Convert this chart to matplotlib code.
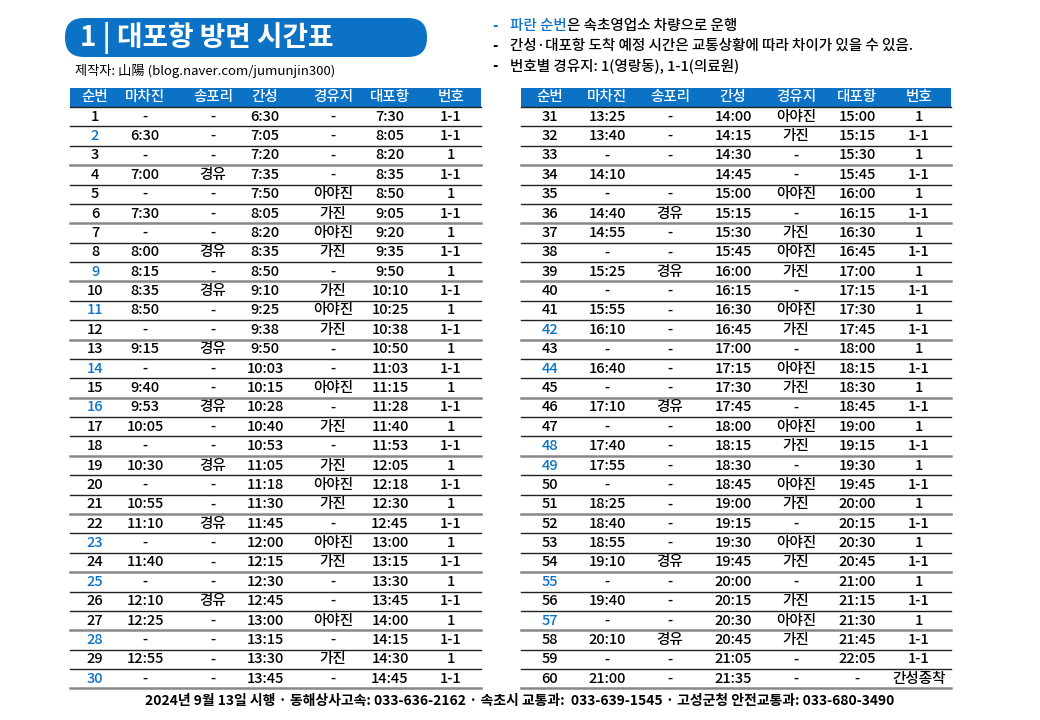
import matplotlib
matplotlib.use("Agg")
import matplotlib.pyplot as plt
from matplotlib.patches import FancyBboxPatch, Rectangle

FONT = ["Noto Sans CJK KR", "Noto Sans CJK JP", "Noto Sans CJK SC", "DejaVu Sans"]
plt.rcParams["font.family"] = FONT
BLUE = "#0b72c6"

headers = ["순번", "마차진", "송포리", "간성", "경유지", "대포항", "번호"]
seq = [str(i) for i in range(1, 61)]
machajin = ["-", "6:30", "-", "7:00", "-", "7:30", "-", "8:00", "8:15", "8:35",
            "8:50", "-", "9:15", "-", "9:40", "9:53", "10:05", "-", "10:30", "-",
            "10:55", "11:10", "-", "11:40", "-", "12:10", "12:25", "-", "12:55", "-",
            "13:25", "13:40", "-", "14:10", "-", "14:40", "14:55", "-", "15:25", "-",
            "15:55", "16:10", "-", "16:40", "-", "17:10", "-", "17:40", "17:55", "-",
            "18:25", "18:40", "18:55", "19:10", "-", "19:40", "-", "20:10", "-", "21:00"]
songpori = ["-", "-", "-", "경유", "-", "-", "-", "경유", "-", "경유",
            "-", "-", "경유", "-", "-", "경유", "-", "-", "경유", "-",
            "-", "경유", "-", "-", "-", "경유", "-", "-", "-", "-",
            "-", "-", "-", "", "-", "경유", "-", "-", "경유", "-",
            "-", "-", "-", "-", "-", "경유", "-", "-", "-", "-",
            "-", "-", "-", "경유", "-", "-", "-", "경유", "-", "-"]
ganseong = ["6:30", "7:05", "7:20", "7:35", "7:50", "8:05", "8:20", "8:35", "8:50", "9:10",
            "9:25", "9:38", "9:50", "10:03", "10:15", "10:28", "10:40", "10:53", "11:05", "11:18",
            "11:30", "11:45", "12:00", "12:15", "12:30", "12:45", "13:00", "13:15", "13:30", "13:45",
            "14:00", "14:15", "14:30", "14:45", "15:00", "15:15", "15:30", "15:45", "16:00", "16:15",
            "16:30", "16:45", "17:00", "17:15", "17:30", "17:45", "18:00", "18:15", "18:30", "18:45",
            "19:00", "19:15", "19:30", "19:45", "20:00", "20:15", "20:30", "20:45", "21:05", "21:35"]
via = ["-", "-", "-", "-", "아야진", "가진", "아야진", "가진", "-", "가진",
       "아야진", "가진", "-", "-", "아야진", "-", "가진", "-", "가진", "아야진",
       "가진", "-", "아야진", "가진", "-", "-", "아야진", "-", "가진", "-",
       "아야진", "가진", "-", "-", "아야진", "-", "가진", "아야진", "가진", "-",
       "아야진", "가진", "-", "아야진", "가진", "-", "아야진", "가진", "-", "아야진",
       "가진", "-", "아야진", "가진", "-", "가진", "아야진", "가진", "-", "-"]
daepo = ["7:30", "8:05", "8:20", "8:35", "8:50", "9:05", "9:20", "9:35", "9:50", "10:10",
         "10:25", "10:38", "10:50", "11:03", "11:15", "11:28", "11:40", "11:53", "12:05", "12:18",
         "12:30", "12:45", "13:00", "13:15", "13:30", "13:45", "14:00", "14:15", "14:30", "14:45",
         "15:00", "15:15", "15:30", "15:45", "16:00", "16:15", "16:30", "16:45", "17:00", "17:15",
         "17:30", "17:45", "18:00", "18:15", "18:30", "18:45", "19:00", "19:15", "19:30", "19:45",
         "20:00", "20:15", "20:30", "20:45", "21:00", "21:15", "21:30", "21:45", "22:05", "-"]
route = ["1-1", "1-1", "1", "1-1", "1", "1-1", "1", "1-1", "1", "1-1",
         "1", "1-1", "1", "1-1", "1", "1-1", "1", "1-1", "1", "1-1",
         "1", "1-1", "1", "1-1", "1", "1-1", "1", "1-1", "1", "1-1",
         "1", "1-1", "1", "1-1", "1", "1-1", "1", "1-1", "1", "1-1",
         "1", "1-1", "1", "1-1", "1", "1-1", "1", "1-1", "1", "1-1",
         "1", "1-1", "1", "1-1", "1", "1-1", "1", "1-1", "1-1", "간성종착"]
blue_seq = {2, 9, 11, 14, 16, 23, 25, 28, 30, 42, 44, 48, 49, 55, 57}

title = "1 | 대포항 방면 시간표"
credit = "제작자: 山陽 (blog.naver.com/jumunjin300)"
notes = ["간성·대포항 도착 예정 시간은 교통상황에 따라 차이가 있을 수 있음.",
         "번호별 경유지: 1(영랑동), 1-1(의료원)"]
footer = "2024년 9월 13일 시행 · 동해상사고속: 033-636-2162 · 속초시 교통과:  033-639-1545 · 고성군청 안전교통과: 033-680-3490"

fig = plt.figure(figsize=(10.4, 7.2), dpi=100)
ax = fig.add_axes([0, 0, 1, 1])
ax.set_xlim(0, 1040)
ax.set_ylim(720, 0)
ax.axis("off")

# Title pill
ax.add_patch(FancyBboxPatch((65, 18), 362, 39, boxstyle="round,pad=0,rounding_size=19",
                            fc=BLUE, ec="none"))
ax.text(80, 38, title, color="white", fontsize=20, fontweight="bold",
        va="center", ha="left")
ax.text(75, 71, credit, fontsize=9.5, va="center", ha="left")

# Notes
ax.text(492, 26, "-", color=BLUE, fontsize=10.5, va="center", fontweight="bold")
t = ax.text(510, 26, "파란 순번", color=BLUE, fontsize=10.5, va="center", fontweight="medium")
fig.canvas.draw()
bb = t.get_window_extent()
ax.text(510 + bb.width, 26, "은 속초영업소 차량으로 운행", fontsize=10.5, va="center",
        fontweight="medium")
for i, n in enumerate(notes):
    y = 46 + 20 * i
    ax.text(492, y, "-", fontsize=10.5, va="center", fontweight="bold")
    ax.text(510, y, n, fontsize=10.5, va="center", fontweight="medium")

tables = [
    (70, 481, [95, 145, 213, 265, 333, 390, 451], 0),
    (521, 951, [550, 607, 670, 733, 796, 857, 919], 30),
]
cols = [seq, machajin, songpori, ganseong, via, daepo, route]
top, hh, rh = 88, 19, 19.38
for x0, x1, cx, off in tables:
    ax.add_patch(Rectangle((x0, top), x1 - x0, hh, fc=BLUE, ec="none"))
    for c, h in zip(cx, headers):
        ax.text(c, top + hh / 2, h, color="white", fontsize=10.5,
                ha="center", va="center", fontweight="medium")
    ax.plot([x0, x1], [top + hh, top + hh], color="#222", lw=1)
    for r in range(30):
        i = off + r
        yc = top + hh + rh * (r + 0.5)
        for k, (c, col) in enumerate(zip(cx, cols)):
            color = BLUE if (k == 0 and (i + 1) in blue_seq) else "black"
            ax.text(c, yc, col[i], color=color, fontsize=10.5,
                    ha="center", va="center", fontweight="medium")
        yb = top + hh + rh * (r + 1)
        ax.plot([x0, x1], [yb, yb], color="#222" if r % 3 != 2 else "#888",
                lw=1 if r % 3 != 2 else 1.8)

ax.text(520, 701, footer, fontsize=10, ha="center", va="center",
        fontweight="bold")

fig.savefig("out.png", dpi=100)
